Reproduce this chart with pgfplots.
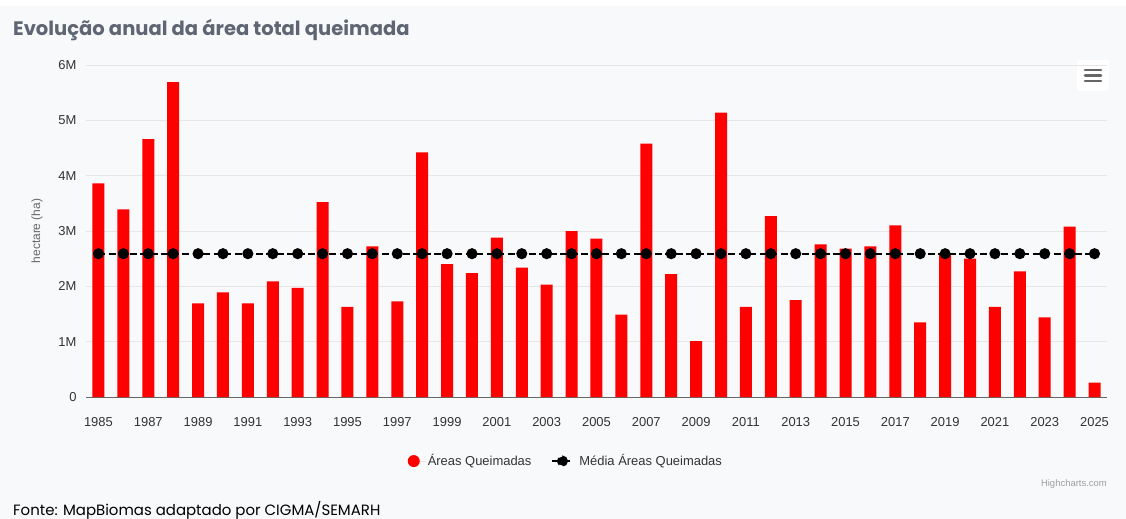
\documentclass[border=0pt]{standalone}
\usepackage{pgfplots}
\pgfplotsset{compat=1.18}
\usepackage{fontspec}
\setmainfont{Liberation Sans}
\newfontfamily\poppins{Poppins}
\definecolor{bg}{HTML}{F8F9FB}
\definecolor{titlecol}{HTML}{5F6673}
\definecolor{gridc}{HTML}{E6E6E6}
\definecolor{txt}{HTML}{333333}
\definecolor{barred}{HTML}{FF0000}
\definecolor{axc}{HTML}{666666}

\pgfplotstableread{
year val
1985 3.86
1986 3.39
1987 4.66
1988 5.69
1989 1.69
1990 1.89
1991 1.69
1992 2.09
1993 1.97
1994 3.52
1995 1.63
1996 2.72
1997 1.73
1998 4.42
1999 2.40
2000 2.24
2001 2.88
2002 2.34
2003 2.03
2004 3.00
2005 2.86
2006 1.49
2007 4.58
2008 2.22
2009 1.01
2010 5.14
2011 1.63
2012 3.27
2013 1.75
2014 2.76
2015 2.68
2016 2.72
2017 3.10
2018 1.35
2019 2.58
2020 2.50
2021 1.63
2022 2.27
2023 1.44
2024 3.08
2025 0.26
}\areas

\pgfplotstableread{
year val
1985 2.59
1986 2.59
1987 2.59
1988 2.59
1989 2.59
1990 2.59
1991 2.59
1992 2.59
1993 2.59
1994 2.59
1995 2.59
1996 2.59
1997 2.59
1998 2.59
1999 2.59
2000 2.59
2001 2.59
2002 2.59
2003 2.59
2004 2.59
2005 2.59
2006 2.59
2007 2.59
2008 2.59
2009 2.59
2010 2.59
2011 2.59
2012 2.59
2013 2.59
2014 2.59
2015 2.59
2016 2.59
2017 2.59
2018 2.59
2019 2.59
2020 2.59
2021 2.59
2022 2.59
2023 2.59
2024 2.59
2025 2.59
}\media

\begin{document}
\begin{tikzpicture}[x=1bp,y=1bp]
\useasboundingbox (0,0) rectangle (1126,-519);
\fill[white] (0,0) rectangle (1126,-519);
\fill[bg] (0,-6) rectangle (1126,-519);
\node[anchor=west, text=titlecol, inner sep=0pt, font=\poppins\bfseries\fontsize{19.6}{22}\selectfont] at (13,-30) {Evolução anual da área total queimada};
% menu button
\fill[white, rounded corners=2bp] (1077,-60) rectangle (1109,-91);
\foreach \yy in {-70,-75.5,-81} {\draw[axc, line width=2.6bp, line cap=round] (1085,\yy) -- (1101,\yy);}
\begin{axis}[
  at={(86bp,-397bp)}, anchor=south west,
  scale only axis, width=1021bp, height=332bp,
  xmin=1984.5, xmax=2025.5, ymin=0, ymax=6,
  axis x line*=bottom, axis y line*=left,
  x axis line style={draw=axc, line width=1bp, -},
  y axis line style={draw=none},
  major tick length=0pt,
  ymajorgrids, grid style={gridc, line width=1bp},
  ytick={0,1,2,3,4,5,6},
  yticklabels={0,1M,2M,3M,4M,5M,6M},
  xtick={1985,1987,1989,1991,1993,1995,1997,1999,2001,2003,2005,2007,2009,2011,2013,2015,2017,2019,2021,2023,2025},
  xticklabels={1985,1987,1989,1991,1993,1995,1997,1999,2001,2003,2005,2007,2009,2011,2013,2015,2017,2019,2021,2023,2025},
  ticklabel style={text=txt, font=\fontsize{13}{15}\selectfont},
  yticklabel style={xshift=-6bp},
  xticklabel style={yshift=-17bp},
  ylabel={hectare (ha)},
  ylabel style={at={(axis description cs:-0.048,0.5)}, anchor=center, text=axc, font=\fontsize{12}{14}\selectfont},
  legend style={at={(0.47,-0.193)}, anchor=center, draw=none, fill=none, legend columns=2,
    font=\fontsize{13}{15}\selectfont, text=txt,
    /tikz/every even column/.append style={column sep=18bp}},
  clip=false,
]
\addplot[ybar, bar width=12bp, bar shift=0pt, fill=barred, draw=none,
  legend image code/.code={\path (-6bp,0) -- (12bp,0); \fill[barred] (0bp,0bp) circle (6bp);}] table[x=year,y=val] {\areas};
\addlegendentry{Áreas Queimadas}
\addplot[black, line width=2bp, dash pattern=on 7bp off 3.5bp, mark=*, mark size=4.5bp, mark options={solid},
  legend image code/.code={\draw[black, line width=2bp] (-6bp,0)--(14bp,0); \fill[black] (4bp,0) circle (4.5bp); \path (18bp,0);}] table[x=year,y=val] {\media};
\addlegendentry{Média Áreas Queimadas}
\end{axis}
\node[anchor=east, text=gray!75, inner sep=0pt, font=\fontsize{9.5}{11}\selectfont] at (1107,-484) {Highcharts.com};
\node[anchor=west, text=black, inner sep=0pt, font=\poppins\fontsize{15}{18}\selectfont] at (13,-510) {Fonte: MapBiomas adaptado por CIGMA/SEMARH};
\end{tikzpicture}
\end{document}
